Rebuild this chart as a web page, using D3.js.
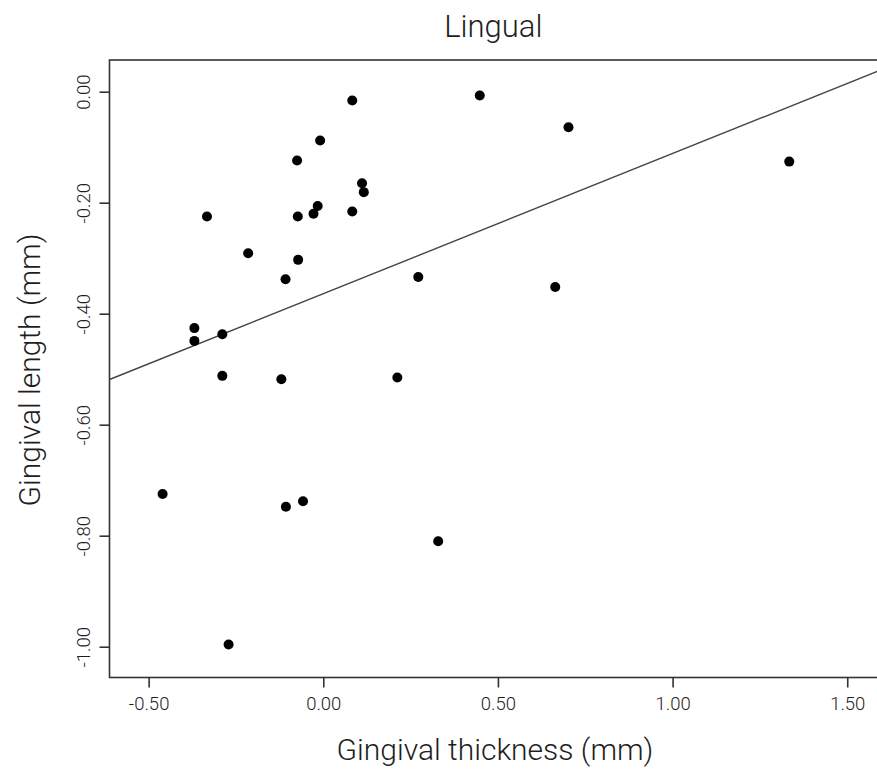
<!DOCTYPE html>
<html><head><meta charset="utf-8">
<script src="https://cdn.jsdelivr.net/npm/d3@7"></script>
<style>
html,body{margin:0;padding:0;background:#fff;}
svg{display:block;}
text{font-family:"Roboto","Liberation Sans",sans-serif;}
</style></head>
<body>
<script>
// Data
const thickness = [0.083, 0.448, -0.009, -0.075, 0.111, 0.116, -0.016, -0.028, -0.073, 0.083,
  -0.333, -0.215, -0.072, -0.108, 0.272, -0.369, -0.369, -0.289, 0.702, 1.334,
  0.664, -0.289, -0.120, 0.212, -0.460, -0.107, -0.058, 0.329, -0.271];
const length = [-0.016, -0.007, -0.088, -0.124, -0.165, -0.181, -0.206, -0.220, -0.225, -0.216,
  -0.225, -0.291, -0.303, -0.338, -0.334, -0.426, -0.449, -0.437, -0.064, -0.126,
  -0.352, -0.512, -0.518, -0.515, -0.725, -0.748, -0.738, -0.810, -0.996];
const fitIntercept = -0.364;
const fitSlope = 0.2526;
const xTicks = [-0.5, 0, 0.5, 1.0, 1.5];
const yTicks = [0, -0.2, -0.4, -0.6, -0.8, -1.0];
const titleText = "Lingual";
const xTitle = "Gingival thickness (mm)";
const yTitle = "Gingival length (mm)";

(function () {
const W = 877, H = 769;
const mL = 109.5, mT = 60, mB = 677.5, mR = 890;
const svg = d3.select("body").append("svg").attr("width", W).attr("height", H);

const x = d3.scaleLinear().domain([-0.612, 1.6224]).range([mL, mR]);
const y = d3.scaleLinear().domain([-1.0555, 0.0571]).range([mB, mT]);

const fmt = d => d.toFixed(2);
const ink = "#1e1e1e";

svg.append("defs").append("clipPath").attr("id", "clip")
  .append("rect").attr("x", mL).attr("y", mT).attr("width", mR - mL).attr("height", mB - mT);

// frame
svg.append("rect").attr("x", mL).attr("y", mT).attr("width", mR - mL).attr("height", mB - mT)
  .attr("fill", "none").attr("stroke", "#333").attr("stroke-width", 1.6);

// x axis
const gx = svg.append("g").attr("transform", `translate(0,${mB})`)
  .call(d3.axisBottom(x).tickValues(xTicks).tickFormat(fmt).tickSize(10).tickPadding(9.5));
gx.select(".domain").remove();
gx.selectAll(".tick line").attr("stroke", "#333").attr("stroke-width", 1.6);
gx.selectAll(".tick text").attr("font-size", 18.5).attr("font-weight", 300).attr("fill", ink)
  .attr("font-family", "Roboto, sans-serif");

// y axis
const gy = svg.append("g").attr("transform", `translate(${mL},0)`)
  .call(d3.axisLeft(y).tickValues(yTicks).tickFormat(fmt).tickSize(10).tickPadding(8));
gy.select(".domain").remove();
gy.selectAll(".tick line").attr("stroke", "#333").attr("stroke-width", 1.6);
gy.selectAll(".tick text")
  .attr("font-size", 18.5).attr("font-weight", 300).attr("fill", ink)
  .attr("font-family", "Roboto, sans-serif")
  .attr("x", null)
  .attr("text-anchor", "middle")
  .attr("transform", "translate(-26.2,0) rotate(-90)")
  .attr("dy", "0.35em");

// fit line
const xd = x.domain();
svg.append("line")
  .attr("clip-path", "url(#clip)")
  .attr("x1", x(xd[0])).attr("y1", y(fitIntercept + fitSlope * xd[0]))
  .attr("x2", x(xd[1])).attr("y2", y(fitIntercept + fitSlope * xd[1]))
  .attr("stroke", "#444").attr("stroke-width", 1.4);

// points
svg.append("g").selectAll("circle").data(thickness.map((t, i) => [t, length[i]]))
  .join("circle")
  .attr("cx", d => x(d[0])).attr("cy", d => y(d[1])).attr("r", 5)
  .attr("fill", "#000");

// titles
svg.append("text").attr("x", 493.3).attr("y", 36.7).attr("text-anchor", "middle")
  .attr("font-size", 31).attr("font-weight", 300).attr("fill", ink).text(titleText);
svg.append("text").attr("x", 495).attr("y", 760).attr("text-anchor", "middle")
  .attr("font-size", 30).attr("font-weight", 300).attr("fill", ink).text(xTitle);
svg.append("text").attr("transform", "translate(40,370) rotate(-90)").attr("text-anchor", "middle")
  .attr("font-size", 30).attr("font-weight", 300).attr("fill", ink).text(yTitle);
})();
</script>
</body></html>
